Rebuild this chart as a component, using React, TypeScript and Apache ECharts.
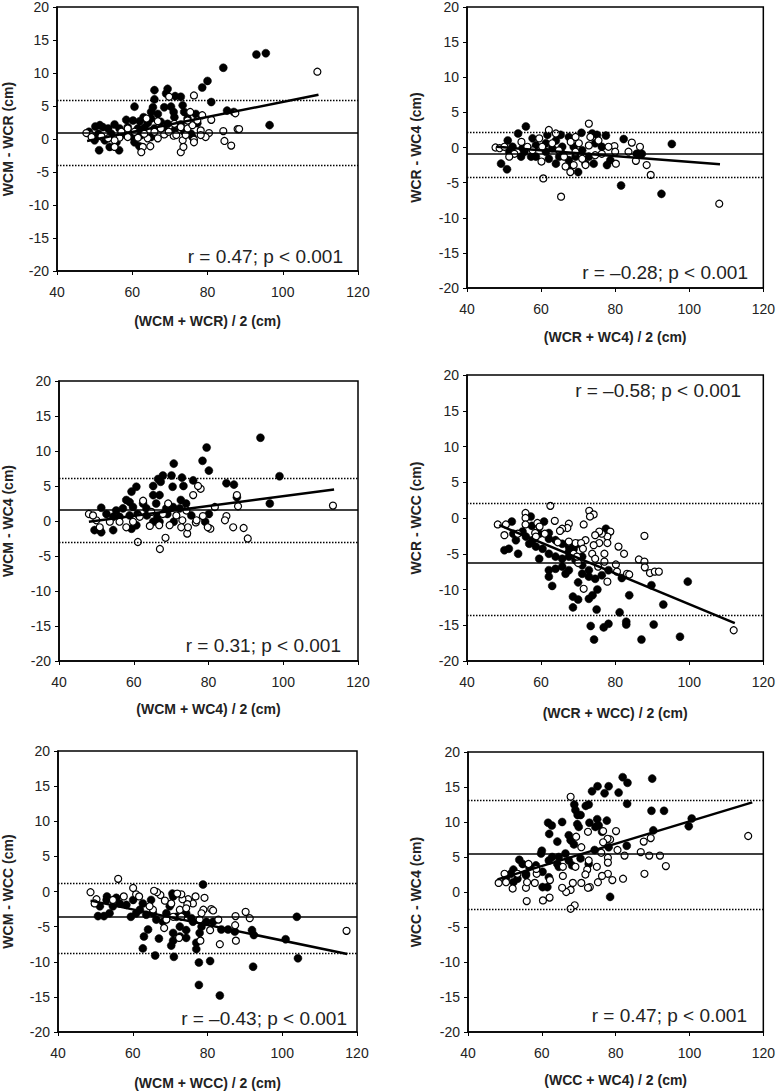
import React, { useEffect, useRef } from "react";
import * as echarts from "echarts";

type Pt = [number, number];

// ---------- data ----------
const xTitles = [
  "(WCM + WCR) / 2 (cm)",
  "(WCR + WC4) / 2 (cm)",
  "(WCM + WC4) / 2 (cm)",
  "(WCR + WCC) / 2 (cm)",
  "(WCM + WCC) / 2 (cm)",
  "(WCC + WC4) / 2 (cm)",
];
const yTitles = [
  "WCM - WCR (cm)",
  "WCR - WC4 (cm)",
  "WCM - WC4 (cm)",
  "WCR - WCC (cm)",
  "WCM - WCC (cm)",
  "WCC - WC4 (cm)",
];
const rLabels = [
  "r = 0.47; p < 0.001",
  "r = \u20130.28; p < 0.001",
  "r = 0.31; p < 0.001",
  "r = \u20130.58; p < 0.001",
  "r = \u20130.43; p < 0.001",
  "r = 0.47; p < 0.001",
];
const meanDiff = [0.9, -0.9, 1.6, -6.2, -3.6, 5.5];
const loaUpper = [5.9, 2.2, 6.1, 2.0, 1.2, 13.1];
const loaLower = [-4.0, -4.2, -3.0, -13.6, -8.8, -2.5];
const regLines: Pt[][] = [
  [[48, -0.3], [109.5, 6.7]],
  [[48, 0.1], [108.3, -2.4]],
  [[48, -0.1], [113.6, 4.5]],
  [[48.7, -1.0], [112.3, -14.7]],
  [[48.7, -1.3], [117.4, -8.9]],
  [[48, 1.8], [117, 12.8]],
];

const p1Filled: Pt[] = [
  [93.0, 12.8], [95.5, 13.0], [84.2, 10.8], [80.0, 8.8], [78.6, 7.8], [81.0, 5.6], [96.5, 2.1],
  [65.9, 7.4], [69.4, 7.6], [69.0, 6.9], [71.4, 6.5], [72.9, 6.4], [65.9, 6.0], [60.6, 4.9],
  [70.3, 4.9], [73.4, 5.1], [68.5, 4.8], [65.5, 4.8], [65.0, 4.1], [66.8, 3.8], [71.0, 4.1],
  [73.8, 4.1], [76.9, 3.8], [85.2, 4.3], [87.0, 4.1], [63.0, 3.3], [65.0, 3.1], [71.2, 3.3],
  [74.7, 3.1], [58.4, 2.9], [60.2, 2.8], [62.0, 2.7], [64.1, 2.4], [67.6, 2.6], [69.4, 2.3],
  [72.9, 2.2], [77.3, 2.4], [55.3, 2.2], [50.2, 1.9], [51.4, 2.1], [52.2, 1.8], [53.6, 1.6],
  [56.6, 1.6], [58.8, 1.8], [61.5, 1.6], [63.2, 1.7], [65.9, 1.6], [68.5, 1.4], [71.2, 1.3],
  [73.8, 1.1], [75.6, 0.8], [48.5, 1.1], [51.0, 0.8], [54.4, 0.8], [57.1, 0.6], [60.2, 0.3],
  [62.4, 0.6], [65.0, 0.3], [50.0, -0.2], [52.7, -0.2], [55.8, -0.5], [60.6, -0.5], [51.2, -1.7],
  [56.5, -1.7], [54.0, -1.2], [61.9, -1.1], [76.0, 0.3],
];
const p1Open: Pt[] = [
  [109.2, 10.2], [76.4, 6.6], [75.4, 4.1], [81.0, 2.9], [78.6, 3.6], [87.4, 3.9], [88.0, 1.5],
  [88.4, 1.5], [84.2, 1.2], [84.5, -0.3], [86.3, -1.0], [80.4, 0.9], [79.5, 0.3], [78.2, 1.3],
  [76.4, -0.1], [76.4, -0.5], [73.4, -0.2], [72.9, -2.0], [73.6, -1.2], [74.2, 0.6], [71.0, 0.5],
  [68.5, 0.7], [66.8, 0.1], [64.8, -1.1], [62.8, -1.2], [62.4, -2.0], [64.1, 0.1], [61.5, 0.2],
  [58.8, 0.3], [56.6, 0.2], [55.3, -0.2], [53.6, 0.1], [51.8, 0.4], [49.0, 0.6], [47.8, 0.9],
  [49.2, 0.3], [55.3, -1.2], [57.1, 1.1], [58.8, 1.6], [63.8, 3.1], [66.8, 2.7], [69.8, 6.4],
  [71.2, 2.3], [72.9, 1.8], [74.7, 1.6], [76.0, 2.1], [77.3, 2.8], [69.7, 1.1], [65.9, 1.1],
  [63.2, 0.8], [60.6, 1.1], [67.6, 1.6], [74.7, 2.8], [78.2, 0.6], [71.7, 0.6],
];

const p2Filled: Pt[] = [
  [95.3, 0.5], [92.5, -6.6], [81.6, -5.4], [82.3, 1.2], [77.5, 1.7], [77.8, -2.5], [78.7, -1.8],
  [73.8, 2.0], [75.1, 1.8], [70.9, 2.1], [70.0, -3.5], [55.9, 3.0], [53.8, 2.0], [51.0, 1.0],
  [49.2, -2.3], [50.8, -3.1], [57.7, 1.3], [61.7, 1.8], [65.3, 1.8], [67.5, 1.5], [64.0, 1.0],
  [61.3, 0.6], [58.6, 0.3], [55.0, -0.1], [52.3, 0.1], [51.4, -0.6], [54.6, -1.3], [58.6, -1.3],
  [61.3, -0.6], [64.0, -2.3], [65.7, -0.9], [67.5, -1.8], [69.3, -1.3], [71.1, -0.4], [72.9, -1.3],
  [74.2, -2.3], [74.6, 0.6], [76.4, 0.1], [65.7, 0.1], [63.0, -0.1], [68.8, 0.1], [57.3, -1.3],
  [55.5, -0.6], [64.9, -1.3], [86.3, -0.9], [87.2, -0.9], [85.8, -0.9], [72.0, -2.3], [62.1, -1.6],
  [67.9, -2.7],
];
const p2Open: Pt[] = [
  [108.1, -8.0], [65.4, -7.0], [60.6, -4.4], [89.6, -3.9], [88.5, -2.5], [85.6, -1.9], [80.2, -2.3],
  [79.8, 0.2], [84.5, 0.7], [86.7, 0.1], [83.6, -0.6], [80.0, -0.6], [72.9, 3.4], [62.1, 2.5],
  [47.7, 0.0], [48.8, -0.1], [50.1, 0.1], [54.7, 0.8], [60.1, -2.0], [66.6, -2.7], [67.9, -3.5],
  [68.8, -2.5], [72.0, -2.5], [73.3, 1.5], [75.5, 1.0], [76.4, -0.9], [78.2, 0.1], [70.2, 0.6],
  [68.0, 0.8], [69.3, -0.6], [64.8, -0.4], [60.3, 0.1], [57.7, -0.4], [56.3, 0.1], [52.8, -0.9],
  [51.4, -1.3], [63.0, 0.6], [66.2, -1.3], [74.6, -1.1], [72.9, 0.3], [71.1, -1.6], [59.5, 1.3],
  [64.0, 2.0], [69.3, 1.5],
];

const p3Filled: Pt[] = [
  [93.9, 11.9], [79.5, 10.5], [78.4, 8.6], [80.1, 7.2], [70.7, 8.2], [99.0, 6.4], [96.4, 2.5],
  [84.8, 5.4], [86.8, 5.2], [87.6, 3.4], [75.9, 5.8], [72.9, 6.2], [70.1, 6.5], [67.8, 6.5],
  [66.5, 6.0], [67.2, 5.6], [65.2, 5.0], [70.4, 4.9], [73.3, 5.0], [60.7, 4.9], [59.4, 4.2],
  [65.2, 3.7], [66.9, 3.7], [58.0, 3.0], [58.9, 2.7], [62.5, 2.5], [66.0, 2.5], [72.6, 3.0],
  [74.0, 2.5], [51.3, 1.9], [55.3, 1.5], [57.1, 1.8], [59.8, 2.0], [63.4, 1.8], [68.7, 1.8],
  [70.5, 2.0], [72.3, 1.8], [75.4, 0.8], [52.7, 1.0], [54.5, 0.6], [56.2, 0.6], [58.9, 0.8],
  [61.0, 1.0], [63.5, 0.8], [66.3, 0.6], [69.0, 1.0], [70.7, -0.1], [49.5, -1.3], [50.9, -1.3],
  [51.3, -1.6], [54.5, -1.3], [59.4, -1.1], [60.7, -0.6], [65.2, -0.1], [66.9, -0.1], [80.1, 1.0],
  [79.1, -0.1],
];
const p3Open: Pt[] = [
  [113.3, 2.2], [77.9, 4.6], [77.2, 5.0], [75.9, 3.7], [87.6, 3.7], [87.9, 2.1], [81.7, 2.0],
  [84.8, 0.7], [84.4, 0.1], [86.6, -0.9], [89.4, -1.0], [90.5, -2.5], [80.5, -1.1], [79.8, -0.9],
  [78.5, 0.7], [76.6, -0.2], [74.3, -1.8], [74.5, -0.9], [73.0, 0.1], [72.7, -0.9], [68.5, -2.4],
  [67.0, -4.0], [61.1, -3.0], [64.3, -0.7], [66.8, -0.6], [69.6, -0.6], [69.2, 2.5], [62.5, 2.9],
  [58.0, -0.9], [56.2, -0.1], [53.6, -0.1], [50.0, 0.1], [48.0, 1.0], [49.1, 0.8], [50.9, -0.9],
  [61.6, 0.6], [64.7, 1.3], [71.4, 0.8], [74.1, 1.5], [76.8, 0.1], [67.8, 1.0], [59.8, -0.1],
];

const p4Filled: Pt[] = [
  [99.6, -8.9], [97.5, -16.6], [93.0, -12.1], [90.4, -14.9], [89.8, -9.4], [87.1, -17.0],
  [83.0, -14.5], [83.0, -14.9], [83.8, -10.8], [81.2, -13.2], [81.8, -8.4], [78.2, -14.8],
  [76.9, -15.3], [74.3, -17.0], [73.4, -15.1], [75.0, -12.8], [72.9, -11.3], [73.9, -10.8],
  [75.2, -10.0], [77.5, -1.5], [70.0, -11.4], [68.6, -12.5], [68.6, -11.0], [70.0, -9.0],
  [71.1, -7.8], [72.9, -8.2], [74.6, -8.5], [76.4, -8.0], [78.2, -7.3], [63.0, -9.5], [62.1, -8.2],
  [62.1, -7.3], [63.9, -7.1], [65.7, -6.8], [66.6, -7.8], [67.5, -7.3], [50.1, -4.5], [51.3, -4.3],
  [53.8, -5.0], [59.5, -5.7], [62.1, -5.0], [63.9, -5.4], [65.7, -5.7], [67.5, -5.4], [69.3, -5.9],
  [71.1, -5.4], [56.8, -3.6], [58.6, -4.0], [60.4, -4.3], [55.9, -2.6], [57.7, -3.1], [59.5, -2.2],
  [62.1, -2.1], [60.8, -0.5], [57.5, -1.1], [52.1, -0.5], [52.5, -2.2], [55.0, -1.9], [53.2, -3.1],
  [63.9, -3.1], [65.7, -3.6], [67.5, -4.0], [68.8, -4.3], [67.5, -4.7], [70.0, -3.6], [62.1, -2.9],
  [57.2, 0.2], [71.1, -6.6], [72.9, -7.3],
];
const p4Open: Pt[] = [
  [112.0, -15.7], [87.9, -2.5], [86.4, -5.8], [87.9, -6.1], [88.0, -6.9], [89.4, -7.7], [90.7, -7.5],
  [91.8, -7.5], [80.9, -4.0], [82.4, -5.0], [83.2, -7.8], [83.8, -7.9], [80.2, -6.5], [80.5, -7.5],
  [77.9, -8.9], [78.7, -1.9], [77.9, -2.6], [77.9, -3.5], [77.1, -5.0], [77.1, -6.1], [76.4, -2.2],
  [75.7, -1.9], [74.6, -2.4], [75.7, -3.5], [74.2, -3.8], [73.8, -5.0], [73.0, 1.0], [74.2, 0.5],
  [73.2, 0.2], [71.5, -0.9], [72.0, -3.1], [69.3, -3.5], [70.8, -3.5], [71.3, -4.3], [70.0, -6.3],
  [71.5, -9.9], [67.5, -0.8], [67.1, -1.4], [65.7, -1.5], [65.1, -1.8], [63.7, -0.4], [62.5, 1.7],
  [64.5, -3.4], [61.0, -2.2], [59.0, -0.7], [59.6, -1.2], [58.4, -2.1], [55.8, 0.7], [55.8, 0.0],
  [55.8, -0.9], [50.1, -2.4], [50.5, -0.9], [48.3, -0.9], [58.6, -2.6], [53.7, -2.2], [67.5, -3.3],
  [68.8, -5.0], [69.7, -5.4], [74.6, -5.7], [75.4, -6.8],
];

const p5Filled: Pt[] = [
  [103.9, -3.6], [104.2, -9.5], [100.9, -6.8], [92.2, -10.7], [92.4, -6.2], [91.9, -5.5],
  [83.3, -14.8], [77.7, -13.3], [77.7, -10.1], [80.7, -9.9], [78.8, 1.0], [71.0, -9.3], [66.0, -9.1],
  [67.0, -6.7], [62.7, -8.1], [63.0, -6.4], [64.1, -5.4], [70.3, -7.7], [70.8, -7.0], [77.0, -8.2],
  [77.0, -7.3], [77.9, -5.9], [78.4, -5.0], [79.7, -4.3], [81.5, -4.3], [83.7, -5.4], [85.5, -5.4],
  [87.3, -5.7], [76.1, -4.3], [74.3, -5.5], [72.6, -5.0], [70.8, -0.7], [70.6, -0.3], [66.3, -4.0],
  [68.1, -4.3], [65.4, -3.1], [69.0, -3.1], [69.9, -2.1], [71.7, -3.6], [74.3, -3.1], [75.7, -3.8],
  [64.9, -1.2], [62.7, -1.7], [61.9, -2.6], [60.1, -1.2], [58.3, -1.9], [56.5, -1.7], [55.6, -0.9],
  [53.1, -0.7], [54.7, -2.1], [53.8, -3.1], [52.3, -3.5], [50.7, -3.5], [51.2, -2.1], [53.0, -1.2],
  [59.5, -3.6], [60.9, -3.1], [63.6, -3.3], [72.6, -6.4], [74.3, -6.6], [70.8, -5.9],
];
const p5Open: Pt[] = [
  [117.2, -5.6], [90.2, -2.9], [91.3, -3.8], [87.5, -3.5], [87.4, -4.8], [87.6, -7.0], [83.3, -7.5],
  [82.9, -4.0], [81.0, -2.5], [81.5, -2.7], [80.7, -5.5], [79.2, -0.9], [78.9, -2.6], [78.4, -3.1],
  [78.1, -7.0], [76.8, -0.7], [76.1, -1.7], [74.8, -1.1], [74.6, -1.8], [73.3, -1.1], [73.0, -0.4],
  [71.9, -0.3], [72.6, -2.6], [73.0, -3.6], [72.4, -6.6], [68.4, -5.2], [68.6, -1.3], [67.4, -0.5],
  [66.5, -0.1], [65.7, 0.1], [65.4, -2.6], [60.9, -0.4], [61.7, -0.7], [60.1, 0.5], [57.6, -0.7],
  [56.1, 1.8], [48.7, -0.1], [50.3, -1.1], [49.8, -1.7], [54.7, -1.2], [64.5, -2.1], [70.3, -1.7],
  [74.3, -2.4], [77.9, -4.0], [69.0, -4.0], [70.8, -3.6],
];

const p6Filled: Pt[] = [
  [100.6, 10.5], [99.8, 9.4], [89.9, 16.2], [89.7, 11.6], [93.1, 11.6], [90.2, 8.8], [81.9, 16.4],
  [83.2, 15.6], [83.1, 12.6], [80.8, 14.2], [83.0, 6.6], [78.5, -0.7], [78.1, 15.1], [77.0, 14.1],
  [75.1, 15.1], [73.6, 14.4], [72.7, 12.5], [71.9, 12.3], [68.8, 12.5], [69.1, 11.7], [69.7, 11.0],
  [70.5, 11.0], [77.6, 10.2], [75.0, 10.4], [72.9, 9.9], [70.0, 9.3], [69.6, 9.7], [65.5, 10.0],
  [61.7, 9.9], [62.7, 9.5], [62.0, 8.3], [64.2, 7.2], [67.3, 8.1], [67.8, 7.4], [68.7, 6.8],
  [74.5, 9.3], [76.3, 8.6], [75.4, 9.5], [78.1, 6.4], [60.0, 5.9], [59.8, 5.5], [53.9, 4.6],
  [54.8, 4.0], [62.8, 5.0], [64.6, 5.0], [66.4, 5.5], [67.3, 4.5], [68.2, 3.8], [70.5, 4.8],
  [72.7, 4.0], [74.3, 6.0], [61.9, 4.5], [64.2, 4.0], [64.6, 3.6], [56.6, 3.6], [55.7, 2.6],
  [58.4, 3.8], [60.2, 2.9], [60.2, 0.7], [61.5, 0.7], [61.9, 2.1], [52.3, 3.2], [51.6, 2.6],
  [52.3, 1.4], [53.4, 1.9], [55.7, 2.4], [50.3, 1.9],
];
const p6Open: Pt[] = [
  [115.9, 8.0], [93.6, 3.7], [92.0, 5.2], [89.5, 7.7], [89.1, 5.2], [87.6, 7.2], [86.8, 5.7],
  [87.8, 2.6], [82.4, 5.2], [82.0, 1.9], [80.5, 6.0], [80.1, 8.7], [78.5, 7.5], [77.8, 7.6],
  [79.1, 1.7], [77.9, 4.9], [77.9, 4.2], [77.9, 2.6], [76.6, 8.7], [76.6, 7.1], [76.1, 5.6],
  [76.3, 2.3], [75.2, 1.4], [74.9, 3.6], [73.0, 0.7], [72.5, 0.6], [72.3, 3.2], [71.8, 2.5],
  [72.5, 8.6], [70.7, 6.4], [70.7, 1.3], [69.3, 7.9], [67.8, 13.6], [68.9, -1.9], [67.8, -2.4],
  [68.4, 1.3], [67.8, 0.3], [66.6, 0.0], [65.5, 0.6], [65.7, 2.3], [60.3, -1.2], [62.1, -0.8],
  [62.2, 1.7], [55.9, -1.3], [55.7, 0.6], [56.0, 1.4], [58.1, 1.3], [58.6, 2.6], [56.4, 4.0],
  [52.1, 0.5], [49.9, 2.6], [48.3, 1.3], [50.3, 1.4], [53.4, 2.6], [58.5, 3.3], [65.7, 3.6],
  [72.7, 4.5], [69.1, 3.6],
];

const filledSets = [p1Filled, p2Filled, p3Filled, p4Filled, p5Filled, p6Filled];
const openSets = [p1Open, p2Open, p3Open, p4Open, p5Open, p6Open];

// ---------- layout ----------
const FONT = "'Liberation Sans', Arial, Helvetica, sans-serif";
const grids = [
  { left: 55, top: 7, width: 303, height: 264 },
  { left: 467, top: 7, width: 299, height: 281 },
  { left: 59, top: 381, width: 299, height: 280 },
  { left: 467, top: 375, width: 299, height: 286 },
  { left: 58, top: 751, width: 299, height: 281 },
  { left: 468, top: 752, width: 298, height: 280 },
];
const yNameGaps = [42, 44, 44, 44, 43, 45];
const xNameGaps = [43, 42, 41, 45, 44, 41];
const annotPos = [
  { x: 343, y: 256 },
  { x: 748, y: 272 },
  { x: 341, y: 645 },
  { x: 741, y: 390 },
  { x: 347, y: 1018 },
  { x: 747, y: 1015 },
];

export default function App() {
  const ref = useRef<HTMLDivElement>(null);
  useEffect(() => {
    document.body.style.margin = "0";
    if (!ref.current) return;
    const chart = echarts.init(ref.current, undefined, { renderer: "svg" });

    const xAxis = grids.map((_, i) => ({
      type: "value",
      gridIndex: i,
      min: 40,
      max: 120,
      interval: 20,
      name: xTitles[i],
      nameLocation: "middle",
      nameGap: xNameGaps[i],
      nameTextStyle: { fontFamily: FONT, fontSize: 14, fontWeight: "bold", color: "#222" },
      axisLine: { show: true, onZero: false, lineStyle: { color: "#000", width: 1.5 } },
      axisTick: { show: true, length: 4, lineStyle: { color: "#000", width: 1 } },
      axisLabel: { fontFamily: FONT, fontSize: 14, color: "#222", margin: 14 },
      splitLine: { show: false },
    }));
    const yAxis = grids.map((_, i) => ({
      type: "value",
      gridIndex: i,
      min: -20,
      max: 20,
      interval: 5,
      name: yTitles[i],
      nameLocation: "middle",
      nameGap: yNameGaps[i],
      nameTextStyle: { fontFamily: FONT, fontSize: 14, fontWeight: "bold", color: "#222" },
      axisLine: { show: true, onZero: false, lineStyle: { color: "#000", width: 1.5 } },
      axisTick: { show: true, length: 4, lineStyle: { color: "#000", width: 1 } },
      axisLabel: { fontFamily: FONT, fontSize: 14, color: "#222", margin: 8 },
      splitLine: { show: false },
    }));

    const series: any[] = [];
    grids.forEach((_, i) => {
      series.push({
        type: "scatter",
        xAxisIndex: i,
        yAxisIndex: i,
        data: filledSets[i],
        symbol: "circle",
        symbolSize: 8,
        itemStyle: { color: "#000", borderColor: "#000", borderWidth: 0.5, opacity: 1 },
        z: 2,
        markLine: {
          silent: true,
          symbol: "none",
          label: { show: false },
          data: [
            { yAxis: meanDiff[i], lineStyle: { type: "solid", width: 1.5, color: "#000" } },
            { yAxis: loaUpper[i], lineStyle: { type: [1.5, 1.5], width: 1.3, color: "#000" } },
            { yAxis: loaLower[i], lineStyle: { type: [1.5, 1.5], width: 1.3, color: "#000" } },
          ],
          z: 5,
        },
      });
      series.push({
        type: "scatter",
        xAxisIndex: i,
        yAxisIndex: i,
        data: openSets[i],
        symbol: "circle",
        symbolSize: 7,
        itemStyle: { color: "#fff", borderColor: "#000", borderWidth: 1.2, opacity: 1 },
        z: 3,
      });
      series.push({
        type: "line",
        xAxisIndex: i,
        yAxisIndex: i,
        data: regLines[i],
        symbol: "none",
        lineStyle: { color: "#000", width: 2.5 },
        z: 6,
      });
    });

    const graphic = annotPos.map((p, i) => ({
      type: "text",
      x: p.x,
      y: p.y,
      z: 10,
      style: {
        text: rLabels[i],
        fontFamily: FONT,
        fontSize: 19,
        fill: "#222",
        textAlign: "right",
        textVerticalAlign: "middle",
      },
    }));

    chart.setOption({
      animation: false,
      backgroundColor: "#fff",
      grid: grids.map((g) => ({
        ...g,
        show: true,
        borderColor: "#000",
        borderWidth: 1.5,
        backgroundColor: "transparent",
        containLabel: false,
      })),
      xAxis,
      yAxis,
      series,
      graphic,
    });
    return () => chart.dispose();
  }, []);
  return <div ref={ref} style={{ width: 778, height: 1091 }} />;
}
